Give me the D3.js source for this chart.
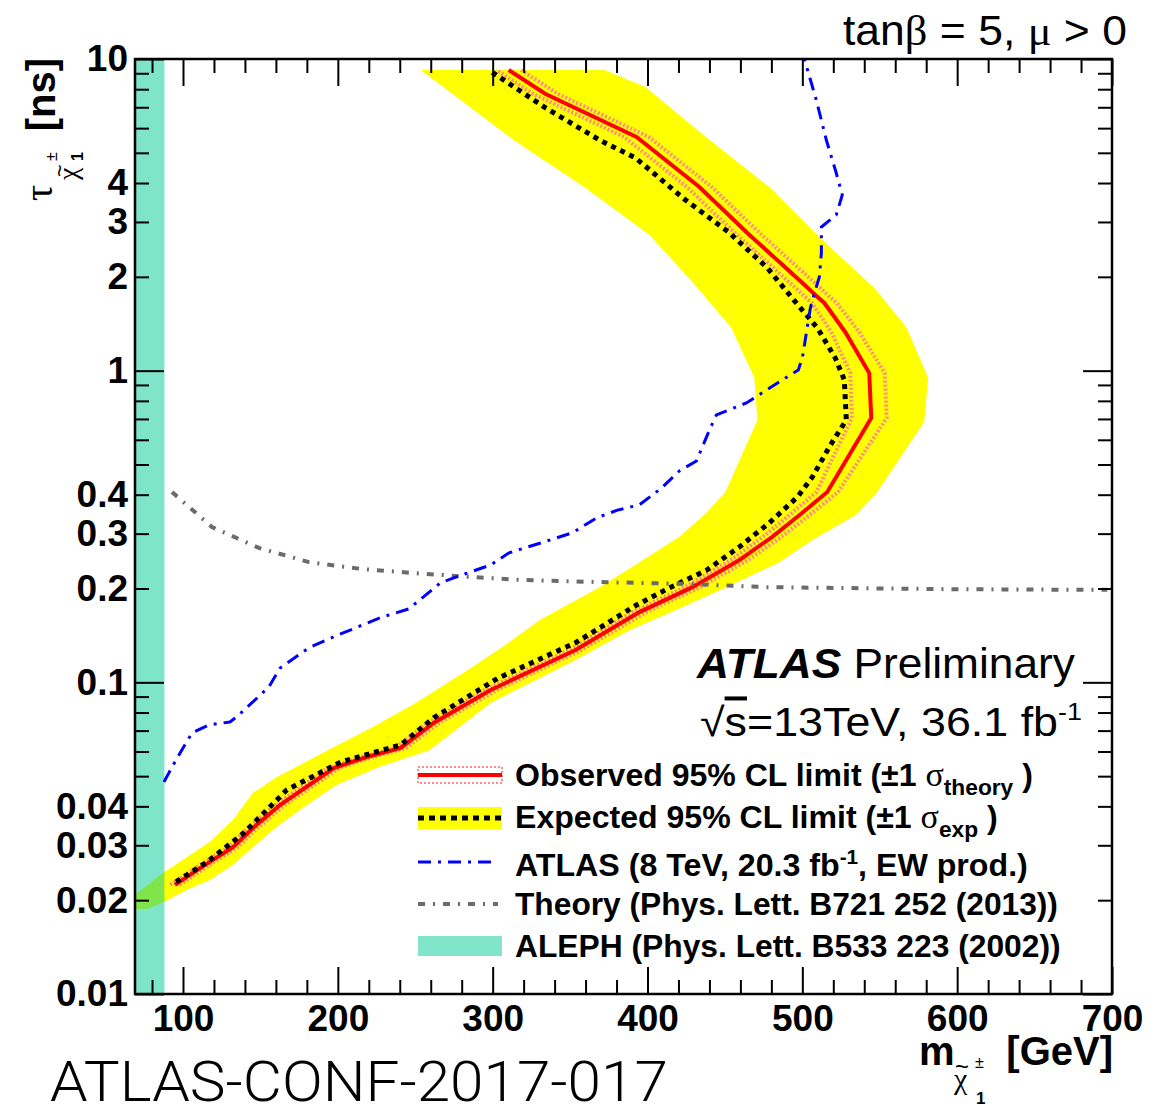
<!DOCTYPE html>
<html>
<head>
<meta charset="utf-8">
<script src="https://cdn.jsdelivr.net/npm/d3@7"></script>
<style>
  html, body { margin: 0; padding: 0; background: #fff; }
  svg { display: block; font-family: "Liberation Sans", Arial, Helvetica, sans-serif; }
</style>
</head>
<body>
<div class="canvas"></div>
<script>
// ---- data: [chargino mass (GeV), lifetime (ns)] ----
const observed = [
  [94.8, 0.0224], [115.5, 0.0262], [132.3, 0.0296], [145.2, 0.0341], [162.6, 0.0404],
  [197.4, 0.0531], [218.7, 0.0576], [240.6, 0.0616], [261.9, 0.0741], [298.7, 0.0945],
  [353.5, 0.127], [394.8, 0.168], [429.0, 0.202], [459.4, 0.247], [480.6, 0.293],
  [500.0, 0.350], [516.1, 0.408], [544.5, 0.705], [543.2, 0.983], [527.7, 1.331],
  [514.2, 1.649], [508.4, 1.75], [499.4, 1.925], [464.5, 2.765], [433.5, 3.884],
  [392.9, 5.621], [334.2, 7.721], [310.3, 9.22]
];
const observedUp = [
  [97.8, 0.0224], [118.5, 0.0262], [135.3, 0.0296], [148.2, 0.0341], [165.6, 0.0404],
  [200.9, 0.0531], [222.2, 0.0576], [244.1, 0.0616], [265.4, 0.0741], [302.7, 0.0945],
  [357.5, 0.127], [399.3, 0.168], [434.0, 0.202], [465.0, 0.247], [486.6, 0.293],
  [506.5, 0.350], [523.1, 0.408], [554.5, 0.705], [553.2, 0.983], [536.7, 1.331],
  [522.2, 1.649], [516.4, 1.75], [507.4, 1.925], [472.5, 2.765], [441.5, 3.884],
  [400.9, 5.621], [342.2, 7.721], [318.3, 9.22]
];
const observedDown = [
  [91.8, 0.0224], [112.5, 0.0262], [129.3, 0.0296], [142.2, 0.0341], [159.6, 0.0404],
  [193.9, 0.0531], [215.2, 0.0576], [237.1, 0.0616], [258.4, 0.0741], [294.7, 0.0945],
  [349.5, 0.127], [390.3, 0.168], [424.0, 0.202], [453.9, 0.247], [474.6, 0.293],
  [493.5, 0.350], [509.1, 0.408], [532.0, 0.705], [531.0, 0.983], [518.7, 1.331],
  [506.2, 1.649], [500.4, 1.75], [491.4, 1.925], [456.5, 2.765], [425.5, 3.884],
  [384.9, 5.621], [326.2, 7.721], [302.3, 9.22]
];
const expected = [
  [95.5, 0.0229], [115.5, 0.0265], [139.4, 0.0329], [167.1, 0.0452], [201.9, 0.0555],
  [240.6, 0.0630], [261.9, 0.0769], [303.2, 0.103], [353.5, 0.134], [392.9, 0.177],
  [414.2, 0.201], [438.1, 0.229], [459.4, 0.272], [478.7, 0.325], [496.8, 0.393],
  [506.5, 0.456], [517.4, 0.569], [528.4, 0.695], [527.1, 0.934], [521.3, 1.098],
  [509.7, 1.371], [495.5, 1.662], [477.4, 2.136], [452.3, 2.786], [424.5, 3.529],
  [392.3, 4.812], [369.0, 5.496], [334.2, 6.966], [297.4, 9.22]
];
// +-1 sigma expected band: inner edge (top to bottom), outer edge (bottom to top)
const expBandInner = [
  [253.5, 9.22], [313.5, 5.496], [360.0, 3.856], [401.3, 2.725], [429.0, 1.925],
  [454.2, 1.371], [469.0, 0.948], [471.0, 0.695], [450.3, 0.408], [438.1, 0.350],
  [420.6, 0.293], [390.3, 0.235], [369.0, 0.202], [331.0, 0.159], [306.5, 0.130],
  [284.5, 0.110], [250.3, 0.0859], [222.6, 0.0719], [190.3, 0.0594], [175.5, 0.0543],
  [160.6, 0.0497], [145.2, 0.0442], [132.3, 0.0362], [117.4, 0.0308], [102.6, 0.0275],
  [87.7, 0.0246], [69.0, 0.0208]
];
const expBandOuter = [
  [69.0, 0.01875], [76.8, 0.01875], [87.7, 0.01975], [102.6, 0.0216], [117.4, 0.0232],
  [132.3, 0.0260], [145.2, 0.0296], [160.6, 0.0344], [180.0, 0.0404], [199.4, 0.0469],
  [227.1, 0.0536], [259.4, 0.0607], [298.7, 0.0859], [353.5, 0.118], [388.4, 0.147],
  [418.7, 0.171], [451.0, 0.202], [485.2, 0.243], [506.5, 0.286], [534.8, 0.345],
  [548.4, 0.408], [578.7, 0.685], [581.3, 0.948], [567.1, 1.381], [546.5, 1.842],
  [511.6, 2.665], [479.4, 3.856], [436.1, 5.704], [398.7, 8.133], [372.3, 9.22]
];
const atlas8TeV = [
  [87.7, 0.0479], [95.5, 0.0564], [105.8, 0.0688], [116.8, 0.0730], [130.3, 0.0746],
  [134.8, 0.0775], [155.5, 0.0967], [162.6, 0.111], [181.3, 0.129], [197.4, 0.140],
  [227.1, 0.161], [245.8, 0.172], [266.5, 0.209], [280.0, 0.221], [298.7, 0.238],
  [310.3, 0.260], [331.0, 0.280], [351.6, 0.302], [367.1, 0.337], [380.6, 0.357],
  [394.8, 0.371], [409.0, 0.420], [420.6, 0.477], [431.6, 0.513], [440.0, 0.645],
  [444.5, 0.721], [463.9, 0.788], [487.1, 0.934], [497.4, 1.005], [500.0, 1.098],
  [505.2, 1.590], [509.0, 1.856], [511.0, 2.0], [512.3, 2.386], [512.3, 2.891],
  [521.9, 3.160], [525.8, 3.662], [521.9, 4.307], [515.5, 5.496], [509.0, 7.39],
  [501.3, 10.0]
];
const theory = [
  [92.9, 0.408], [118.7, 0.315], [149.0, 0.270], [181.3, 0.243], [215.5, 0.231],
  [250.3, 0.224], [284.5, 0.218], [319.4, 0.213], [365.2, 0.210], [423.2, 0.207],
  [476.8, 0.202], [594.8, 0.199], [697.0, 0.198]
];
const alephMassLimit = 88;

// ---- axes ----
const massDomain = [69, 700];
const tauDomain = [0.01, 10];
const massLabels = [100, 200, 300, 400, 500, 600, 700];
const tauLabels = [10, 4, 3, 2, 1, 0.4, 0.3, 0.2, 0.1, 0.04, 0.03, 0.02, 0.01];

const canvasWidth = 1161;
const canvasHeight = 1109;
const margins = { top: 59, right: 49, bottom: 115, left: 135 };
const graphWidth = canvasWidth - margins.left - margins.right;
const graphHeight = canvasHeight - margins.top - margins.bottom;

const svg = d3
  .select('.canvas')
  .append('svg')
  .attr('width', canvasWidth)
  .attr('height', canvasHeight);

const graph = svg
  .append('g')
  .attr('transform', `translate(${margins.left}, ${margins.top})`);

svg.append('defs')
  .append('clipPath')
  .attr('id', 'plot-clip')
  .append('rect')
  .attr('width', graphWidth)
  .attr('height', graphHeight);

// Scales
const x = d3.scaleLinear().domain(massDomain).range([0, graphWidth]);
const y = d3.scaleLog().domain(tauDomain).range([graphHeight, 0]);

const line = d3.line().x(d => x(d[0])).y(d => y(d[1]));

const plot = graph.append('g').attr('clip-path', 'url(#plot-clip)');

// expected +-1 sigma band
plot.append('path')
  .attr('d', line(expBandInner.concat(expBandOuter)) + 'Z')
  .attr('fill', '#ffff00');

// observed +-1 sigma theory
[observedUp, observedDown].forEach(curve => {
  plot.append('path')
    .attr('d', line(curve))
    .attr('fill', 'none')
    .attr('stroke', '#ff8a8a')
    .attr('stroke-width', 4)
    .attr('stroke-dasharray', '2, 2');
});

// observed limit
plot.append('path')
  .attr('d', line(observed))
  .attr('fill', 'none')
  .attr('stroke', '#ff0000')
  .attr('stroke-width', 4);

// expected limit
plot.append('path')
  .attr('d', line(expected))
  .attr('fill', 'none')
  .attr('stroke', '#000')
  .attr('stroke-width', 5)
  .attr('stroke-dasharray', '5, 5');

// theory curve
plot.append('path')
  .attr('d', line(theory))
  .attr('fill', 'none')
  .attr('stroke', '#6b6b6b')
  .attr('stroke-width', 4)
  .attr('stroke-dasharray', '7, 8, 2, 8');

// Axes
const xMinor = d3.range(80, 700, 20).filter(d => d % 100 !== 0);
const yMajor = [0.01, 0.1, 1, 10];
const yMinor = [];
[0.01, 0.1, 1].forEach(dec => d3.range(2, 10).forEach(k => yMinor.push(+(dec * k).toPrecision(3))));

const tickStyle = g => {
  g.select('.domain').remove();
  g.selectAll('line').attr('stroke', '#000').attr('stroke-width', 2);
};

graph.append('g')
  .attr('transform', `translate(0, ${graphHeight})`)
  .call(d3.axisBottom(x).tickValues(massLabels).tickSize(-27).tickPadding(11).tickFormat(d3.format('d')))
  .call(tickStyle)
  .selectAll('text')
  .attr('font-size', 37)
  .attr('font-weight', 'bold')
  .attr('fill', '#000')
  .attr('font-family', '"Liberation Sans", Arial, sans-serif');
graph.append('g')
  .attr('transform', `translate(0, ${graphHeight})`)
  .call(d3.axisBottom(x).tickValues(xMinor).tickSize(-14).tickFormat(''))
  .call(tickStyle);
graph.append('g')
  .call(d3.axisTop(x).tickValues(massLabels).tickSize(-27).tickFormat(''))
  .call(tickStyle);
graph.append('g')
  .call(d3.axisTop(x).tickValues(xMinor).tickSize(-14).tickFormat(''))
  .call(tickStyle);

graph.append('g')
  .call(d3.axisLeft(y).tickValues(yMajor).tickSize(-29).tickFormat(''))
  .call(tickStyle);
graph.append('g')
  .call(d3.axisLeft(y).tickValues(yMinor).tickSize(-14).tickFormat(''))
  .call(tickStyle);
graph.append('g')
  .call(d3.axisLeft(y).tickValues(tauLabels).tickSize(0).tickPadding(7).tickFormat(d => `${d}`))
  .call(tickStyle)
  .selectAll('text')
  .attr('font-size', 37)
  .attr('font-weight', 'bold')
  .attr('fill', '#000')
  .attr('font-family', '"Liberation Sans", Arial, sans-serif');
graph.append('g')
  .attr('transform', `translate(${graphWidth}, 0)`)
  .call(d3.axisRight(y).tickValues(yMajor).tickSize(-29).tickFormat(''))
  .call(tickStyle);
graph.append('g')
  .attr('transform', `translate(${graphWidth}, 0)`)
  .call(d3.axisRight(y).tickValues(yMinor).tickSize(-14).tickFormat(''))
  .call(tickStyle);

// ALEPH excluded region (translucent on top)
plot.append('rect')
  .attr('x', x(massDomain[0]))
  .attr('y', 0)
  .attr('width', x(alephMassLimit) - x(massDomain[0]))
  .attr('height', graphHeight)
  .attr('fill', 'rgb(0, 203, 150)')
  .attr('fill-opacity', 0.5);

// ATLAS 8 TeV
plot.append('path')
  .attr('d', line(atlas8TeV))
  .attr('fill', 'none')
  .attr('stroke', '#0000ff')
  .attr('stroke-width', 3)
  .attr('stroke-dasharray', '13, 7, 3, 7');

// frame
graph.append('rect')
  .attr('width', graphWidth)
  .attr('height', graphHeight)
  .attr('fill', 'none')
  .attr('stroke', '#000')
  .attr('stroke-width', 2.5);

// fit a text element horizontally into a target width
const fitText = (sel, targetWidth) => {
  const w = sel.node().getComputedTextLength();
  const tx = +sel.attr('x');
  const ty = +sel.attr('y');
  sel.attr('x', 0).attr('y', 0)
    .attr('transform', `translate(${tx}, ${ty}) scale(${targetWidth / w}, 1)`);
};

// Legend
const legendX = 418;
const legendW = 84;
const legend = svg.append('g');

legend.append('rect')
  .attr('x', legendX).attr('y', 767).attr('width', legendW).attr('height', 16)
  .attr('fill', 'none').attr('stroke', '#ff8a8a').attr('stroke-width', 2).attr('stroke-dasharray', '2, 2');
legend.append('line')
  .attr('x1', legendX).attr('x2', legendX + legendW).attr('y1', 775).attr('y2', 775)
  .attr('stroke', '#ff0000').attr('stroke-width', 4);

legend.append('rect')
  .attr('x', legendX).attr('y', 807).attr('width', legendW).attr('height', 22)
  .attr('fill', '#ffff00');
legend.append('line')
  .attr('x1', legendX).attr('x2', legendX + legendW).attr('y1', 818).attr('y2', 818)
  .attr('stroke', '#000').attr('stroke-width', 5).attr('stroke-dasharray', '6, 5');

legend.append('line')
  .attr('x1', legendX).attr('x2', legendX + legendW - 4).attr('y1', 862).attr('y2', 862)
  .attr('stroke', '#0000ff').attr('stroke-width', 3).attr('stroke-dasharray', '13, 7, 3, 7');

legend.append('line')
  .attr('x1', legendX).attr('x2', legendX + legendW - 4).attr('y1', 904).attr('y2', 904)
  .attr('stroke', '#6b6b6b').attr('stroke-width', 4).attr('stroke-dasharray', '7, 8, 2, 8');

legend.append('rect')
  .attr('x', legendX).attr('y', 936).attr('width', legendW).attr('height', 20)
  .attr('fill', '#80e5cb');

const legendEntries = [
  { y: 786, w: 518, parts: [['Observed 95% CL limit (±1 '], ['σ', 'sym'], ['theory', 'sub'], [' )', 'back']] },
  { y: 828, w: 483, parts: [['Expected 95% CL limit (±1 '], ['σ', 'sym'], ['exp', 'sub'], [' )', 'back']] },
  { y: 876, w: 513, parts: [['ATLAS (8 TeV, 20.3 fb'], ['-1', 'sup'], [', EW prod.)', 'down']] },
  { y: 915, w: 543, parts: [['Theory (Phys. Lett. B721 252 (2013))']] },
  { y: 957, w: 546, parts: [['ALEPH (Phys. Lett. B533 223 (2002))']] }
];

legendEntries.forEach(entry => {
  const t = legend.append('text')
    .attr('x', 515)
    .attr('y', entry.y)
    .attr('font-size', 31)
    .attr('font-weight', 'bold')
    .attr('fill', '#000');
  entry.parts.forEach(([txt, kind]) => {
    const s = t.append('tspan').text(txt);
    if (kind === 'sym') s.attr('font-weight', 'normal').attr('font-family', '"Liberation Serif", serif').attr('font-size', 33);
    if (kind === 'sub') s.attr('font-size', 22).attr('dy', 9);
    if (kind === 'back') s.attr('dy', -9);
    if (kind === 'sup') s.attr('font-size', 20).attr('dy', -12);
    if (kind === 'down') s.attr('dy', 12);
  });
  fitText(t, entry.w);
});

// ATLAS label
const atlasLabel = svg.append('text')
  .attr('x', 697).attr('y', 678)
  .attr('font-size', 42)
  .attr('fill', '#000');
atlasLabel.append('tspan').attr('font-weight', 'bold').attr('font-style', 'italic').text('ATLAS');
atlasLabel.append('tspan').text(' Preliminary');
fitText(atlasLabel, 378);

const lumiLabel = svg.append('text')
  .attr('x', 700).attr('y', 736)
  .attr('font-size', 40)
  .attr('fill', '#000');
lumiLabel.append('tspan').text('√');
lumiLabel.append('tspan').style('text-decoration', 'overline').text('s');
lumiLabel.append('tspan').text('=13TeV, 36.1 fb');
lumiLabel.append('tspan').attr('font-size', 24).attr('dy', -16).text('-1');
fitText(lumiLabel, 382);

// model parameters
const paramLabel = svg.append('text')
  .attr('x', 843).attr('y', 45)
  .attr('font-size', 42)
  .attr('fill', '#000');
paramLabel.append('tspan').text('tan');
paramLabel.append('tspan').attr('font-family', '"Liberation Serif", serif').text('β');
paramLabel.append('tspan').text(' = 5, ');
paramLabel.append('tspan').attr('font-family', '"Liberation Serif", serif').text('μ');
paramLabel.append('tspan').text(' > 0');
fitText(paramLabel, 284);

// conference note id
const confLabel = svg.append('text')
  .attr('x', 50).attr('y', 1101)
  .attr('font-size', 56)
  .attr('font-weight', 300)
  .attr('font-family', 'Roboto, "Liberation Sans", sans-serif')
  .attr('fill', '#000')
  .text('ATLAS-CONF-2017-017');
fitText(confLabel, 618);

// axis titles: chargino symbol built from small pieces
const addText = (parent, txt, px, py, size, opts = {}) => parent.append('text')
  .attr('x', px).attr('y', py)
  .attr('font-size', size)
  .attr('font-weight', opts.bold ? 'bold' : 'normal')
  .attr('font-family', opts.serif ? '"Liberation Serif", serif' : '"Liberation Sans", Arial, sans-serif')
  .attr('text-anchor', opts.anchor || 'start')
  .attr('fill', '#000')
  .text(txt);

const xTitle = svg.append('g');
addText(xTitle, 'm', 919, 1065, 40, { bold: true });
addText(xTitle, 'χ', 954, 1089, 30, { serif: true });
addText(xTitle, '~', 955, 1075, 24);
addText(xTitle, '±', 975, 1068, 16);
addText(xTitle, '1', 976, 1104, 17, { bold: true });
addText(xTitle, '[GeV]', 1113, 1065, 40, { bold: true, anchor: 'end' });

const yTitle = svg.append('g').attr('transform', 'rotate(-90)');
addText(yTitle, '[ns]', -58, 55, 40, { bold: true, anchor: 'end' });
addText(yTitle, 'τ', -201, 52, 40, { serif: true });
addText(yTitle, 'χ', -180, 77, 28, { serif: true });
addText(yTitle, '~', -177, 67, 22);
addText(yTitle, '±', -161, 57, 16);
addText(yTitle, '1', -161, 83, 16, { bold: true });
</script>
</body>
</html>
